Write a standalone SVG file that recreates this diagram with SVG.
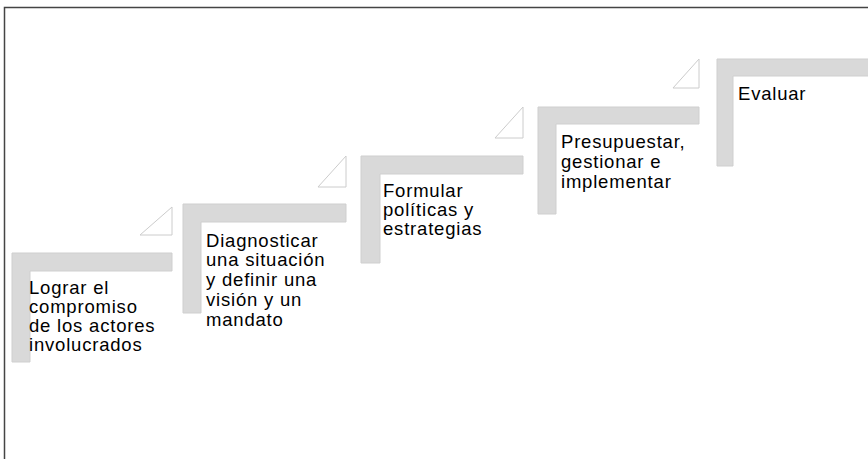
<svg xmlns="http://www.w3.org/2000/svg" width="868" height="459" viewBox="0 0 868 459">
<style>
.bar{fill:#d9d9d9;stroke:#cfcfcf;stroke-width:1}
.tri{fill:#ffffff;stroke:#cccccc;stroke-width:1}
.lbl{font-family:"Liberation Sans",Arial,sans-serif;font-size:18.5px;letter-spacing:0.8px;fill:#000}
</style>
<rect width="868" height="459" fill="#ffffff"/>
<path d="M4.5,459 V7.5 H868" fill="none" stroke="#444" stroke-width="1.5"/>
<g id="step1">
<path class="bar" d="M12,253 H172 V271 H30 V362 H12 Z"/>
<path class="tri" d="M140,235 L172,207 L172,235 Z"/>
<text class="lbl" x="29" y="294">Lograr el</text>
<text class="lbl" x="29" y="313">compromiso</text>
<text class="lbl" x="29" y="332">de los actores</text>
<text class="lbl" x="29" y="351">involucrados</text>
</g>
<g id="step2">
<path class="bar" d="M183,204 H346 V222 H201 V313 H183 Z"/>
<path class="tri" d="M318,187 L346,156 L346,187 Z"/>
<text class="lbl" x="206" y="247">Diagnosticar</text>
<text class="lbl" x="206" y="266">una situación</text>
<text class="lbl" x="206" y="286">y definir una</text>
<text class="lbl" x="206" y="306">visión y un</text>
<text class="lbl" x="206" y="326">mandato</text>
</g>
<g id="step3">
<path class="bar" d="M361,156 H523 V174 H380 V263 H361 Z"/>
<path class="tri" d="M495,138 L523,107 L523,138 Z"/>
<text class="lbl" x="383" y="197">Formular</text>
<text class="lbl" x="383" y="216">políticas y</text>
<text class="lbl" x="383" y="235">estrategias</text>
</g>
<g id="step4">
<path class="bar" d="M538,107 H699 V124 H556 V214 H538 Z"/>
<path class="tri" d="M673,88 L699,59 L699,88 Z"/>
<text class="lbl" x="561" y="148">Presupuestar,</text>
<text class="lbl" x="561" y="168">gestionar e</text>
<text class="lbl" x="561" y="188">implementar</text>
</g>
<g id="step5">
<path class="bar" d="M717,59 H880 V76 H733 V166 H717 Z"/>
<text class="lbl" x="738" y="100">Evaluar</text>
</g>
<g id="connectors"></g>
</svg>
